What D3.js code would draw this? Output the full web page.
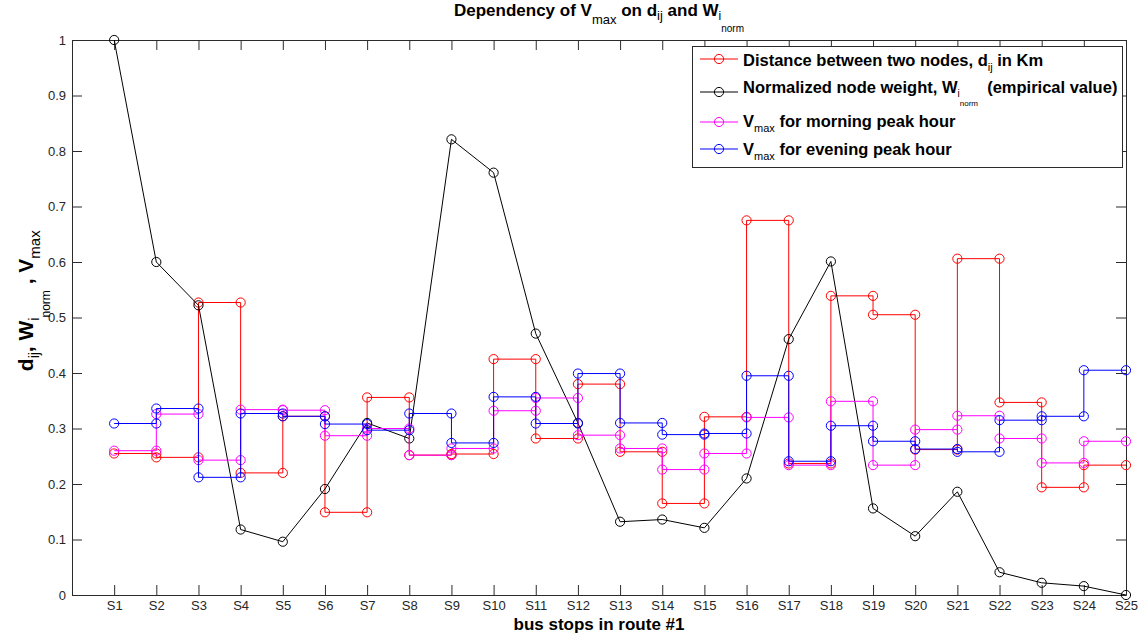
<!DOCTYPE html>
<html>
<head>
<meta charset="utf-8">
<script src="https://cdn.jsdelivr.net/npm/d3@7"></script>
<style>
  html, body { margin: 0; padding: 0; background: #fff; }
  svg { display: block; }
  text { font-family: "Liberation Sans", Arial, Helvetica, sans-serif; }
</style>
</head>
<body>
<svg id="chart" width="1141" height="638"></svg>
<script>
// Bus stops along route #1
const stops = ["S1","S2","S3","S4","S5","S6","S7","S8","S9","S10","S11","S12","S13",
               "S14","S15","S16","S17","S18","S19","S20","S21","S22","S23","S24","S25"];

// Normalized node weight W_i_norm, one value per stop
const nodeWeight = [1.0, 0.6, 0.522, 0.118, 0.096, 0.191, 0.31, 0.282, 0.821, 0.761,
                    0.471, 0.31, 0.132, 0.136, 0.121, 0.21, 0.461, 0.601, 0.156, 0.106,
                    0.186, 0.041, 0.022, 0.016, 0.0];

// Link values between consecutive stops (S1-S2, S2-S3, ... S24-S25)
const distance = [0.255, 0.248, 0.527, 0.22, 0.322, 0.149, 0.356, 0.252, 0.254, 0.425,
                  0.282, 0.38, 0.258, 0.165, 0.321, 0.675, 0.237, 0.539, 0.505, 0.262,
                  0.606, 0.347, 0.194, 0.234];
const vmaxMorning = [0.26, 0.326, 0.243, 0.334, 0.333, 0.287, 0.30, 0.252, 0.264, 0.332,
                     0.355, 0.288, 0.264, 0.226, 0.255, 0.32, 0.234, 0.349, 0.234, 0.298,
                     0.323, 0.282, 0.238, 0.277];
const vmaxEvening = [0.309, 0.336, 0.212, 0.327, 0.322, 0.308, 0.297, 0.327, 0.274, 0.357,
                     0.309, 0.399, 0.31, 0.289, 0.291, 0.395, 0.241, 0.305, 0.277, 0.263,
                     0.258, 0.315, 0.322, 0.405];

const yTicks = [0, 0.1, 0.2, 0.3, 0.4, 0.5, 0.6, 0.7, 0.8, 0.9, 1];
const yTickLabels = ["0", "0.1", "0.2", "0.3", "0.4", "0.5", "0.6", "0.7", "0.8", "0.9", "1"];

const svg = d3.select("#chart");
const plot = { left: 72, right: 1126, top: 40, bottom: 595 };

const x = d3.scaleLinear().domain([0, 25]).range([plot.left, plot.right]);
const y = d3.scaleLinear().domain([0, 1]).range([plot.bottom, plot.top]);

const axisColor = "#2b2b2b";
const tickText = "#262626";

// ---- axes (boxed, ticks pointing inward) ----
const xTickVals = stops.map((_, i) => i + 1);

const gBottom = svg.append("g").attr("transform", `translate(0,${plot.bottom})`)
  .call(d3.axisBottom(x).tickValues(xTickVals).tickFormat(i => stops[i - 1])
        .tickSizeInner(-10).tickSizeOuter(0).tickPadding(6));
const gTop = svg.append("g").attr("transform", `translate(0,${plot.top})`)
  .call(d3.axisTop(x).tickValues(xTickVals).tickFormat("")
        .tickSizeInner(-10).tickSizeOuter(0));
const gLeft = svg.append("g").attr("transform", `translate(${plot.left},0)`)
  .call(d3.axisLeft(y).tickValues(yTicks).tickFormat((d, i) => yTickLabels[i])
        .tickSizeInner(-10).tickSizeOuter(0).tickPadding(6));
const gRight = svg.append("g").attr("transform", `translate(${plot.right},0)`)
  .call(d3.axisRight(y).tickValues(yTicks).tickFormat("")
        .tickSizeInner(-10).tickSizeOuter(0));

[gBottom, gTop, gLeft, gRight].forEach(g => {
  g.select(".domain").attr("stroke", axisColor).attr("stroke-width", 1);
  g.selectAll(".tick line").attr("stroke", axisColor).attr("stroke-width", 1);
  g.selectAll(".tick text").attr("fill", tickText)
    .style("font-family", '"Liberation Sans", Arial, sans-serif').style("font-size", "13px");
});

// ---- series ----
function stepPoints(vals) {
  const pts = [];
  vals.forEach((v, i) => { pts.push([i + 1, v]); pts.push([i + 2, v]); });
  return pts;
}
const line = d3.line().x(d => x(d[0])).y(d => y(d[1]));

const series = [
  { color: "#ff0000", pts: stepPoints(distance) },
  { color: "#000000", pts: nodeWeight.map((v, i) => [i + 1, v]) },
  { color: "#ff00ff", pts: stepPoints(vmaxMorning) },
  { color: "#0000ff", pts: stepPoints(vmaxEvening) }
];

const gSeries = svg.append("g");
series.forEach(s => {
  const g = gSeries.append("g");
  g.append("path").datum(s.pts).attr("d", line)
    .attr("fill", "none").attr("stroke", s.color).attr("stroke-width", 1);
  g.selectAll("circle").data(s.pts).join("circle")
    .attr("cx", d => x(d[0])).attr("cy", d => y(d[1])).attr("r", 4.6)
    .attr("fill", "none").attr("stroke", s.color).attr("stroke-width", 1);
});

// ---- text with sub/superscript parts ----
// parts: {t, size, bold, shift} ; shift = baseline offset in px (down positive)
function richText(parent, xPos, yPos, parts, anchor) {
  const t = parent.append("text").attr("x", xPos).attr("y", yPos).attr("fill", "#000");
  let prev = 0;
  parts.forEach(p => {
    const shift = p.shift || 0;
    t.append("tspan")
      .attr("dy", shift - prev)
      .style("font-size", p.size + "px")
      .style("font-weight", p.bold ? "bold" : "normal")
      .style("white-space", "pre")
      .text(p.t);
    prev = shift;
  });
  t.attr("xml:space", "preserve");
  if (anchor === "middle") {
    const w = t.node().getBBox().width;
    t.attr("x", xPos - w / 2);
  }
  return t;
}

// Title
richText(svg, (plot.left + plot.right) / 2, 16, [
  { t: "Dependency of V", size: 17, bold: true },
  { t: "max", size: 13, shift: 8 },
  { t: " on d", size: 17, bold: true },
  { t: "ij", size: 13, shift: 4 },
  { t: " and W", size: 17, bold: true },
  { t: "i", size: 12, shift: 4 },
  { t: "norm", size: 10, shift: 16 }
], "middle");

// X axis label
svg.append("text")
  .attr("x", (plot.left + plot.right) / 2).attr("y", 630)
  .attr("text-anchor", "middle")
  .style("font-size", "17px").style("font-weight", "bold")
  .text("bus stops in route #1");

// Y axis label (rotated)
const gy = svg.append("g").attr("transform", `translate(33,${(plot.top + plot.bottom) / 2 - 17}) rotate(-90)`);
richText(gy, 0, 0, [
  { t: "d", size: 21, bold: true },
  { t: "ij", size: 14, shift: 6 },
  { t: ", W", size: 21, bold: true },
  { t: "i", size: 14, shift: 6 },
  { t: "norm", size: 12, shift: 17 },
  { t: " , V", size: 21, bold: true },
  { t: "max", size: 15, shift: 7 }
], "middle");

// ---- legend ----
const legend = svg.append("g");
legend.append("rect").attr("x", 692.5).attr("y", 46.5).attr("width", 430).attr("height", 121)
  .attr("fill", "#fff").attr("stroke", axisColor).attr("stroke-width", 1);

const legendRows = [
  { color: "#ff0000", ly: 59, by: 66, parts: [
      { t: "Distance between two nodes, d", size: 16.5, bold: true },
      { t: "ij", size: 11, shift: 5 },
      { t: " in Km", size: 16.5, bold: true }] },
  { color: "#000000", ly: 92, by: 93, parts: [
      { t: "Normalized node weight, W", size: 16.5, bold: true },
      { t: "i", size: 10, shift: 4 },
      { t: "norm", size: 8, shift: 13 },
      { t: "  (empirical value)", size: 16.5, bold: true }] },
  { color: "#ff00ff", ly: 122, by: 127, parts: [
      { t: "V", size: 16.5, bold: true },
      { t: "max", size: 11, shift: 5 },
      { t: " for morning peak hour", size: 16.5, bold: true }] },
  { color: "#0000ff", ly: 149, by: 155, parts: [
      { t: "V", size: 16.5, bold: true },
      { t: "max", size: 11, shift: 5 },
      { t: " for evening peak hour", size: 16.5, bold: true }] }
];

legendRows.forEach(r => {
  legend.append("line").attr("x1", 700).attr("x2", 738).attr("y1", r.ly).attr("y2", r.ly)
    .attr("stroke", r.color).attr("stroke-width", 1);
  legend.append("circle").attr("cx", 719).attr("cy", r.ly).attr("r", 4.6)
    .attr("fill", "none").attr("stroke", r.color).attr("stroke-width", 1);
  richText(legend, 743, r.by, r.parts, "start");
});
</script>
</body>
</html>
